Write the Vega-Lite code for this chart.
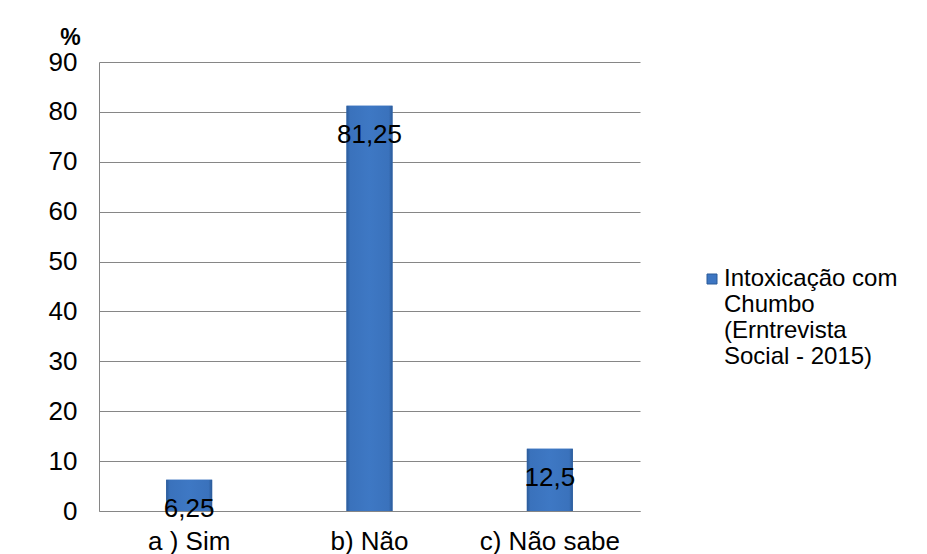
{
  "$schema": "https://vega.github.io/schema/vega-lite/v6.json",
  "autosize": {"type": "none"},
  "padding": {"left": 99, "top": 62, "right": 287, "bottom": 43},
  "width": 541,
  "height": 449,
  "config": {
    "font": "Liberation Sans",
    "view": {"stroke": null},
    "locale": {
      "number": {"decimal": ",", "thousands": ".", "grouping": [3], "currency": ["R$", ""]}
    }
  },
  "data": {
    "values": [
      {"resposta": "a ) Sim", "pct": 6.25, "serie": "Intoxicação com Chumbo (Erntrevista Social - 2015)"},
      {"resposta": "b) Não", "pct": 81.25, "serie": "Intoxicação com Chumbo (Erntrevista Social - 2015)"},
      {"resposta": "c) Não sabe", "pct": 12.5, "serie": "Intoxicação com Chumbo (Erntrevista Social - 2015)"}
    ]
  },
  "encoding": {
    "x": {
      "field": "resposta",
      "type": "nominal",
      "sort": null,
      "scale": {"paddingInner": 0, "paddingOuter": 0},
      "axis": {
        "title": null,
        "ticks": false,
        "labelAngle": 0,
        "labelPadding": 17,
        "labelFontSize": 26,
        "labelColor": "#000000",
        "domainColor": "#868686",
        "domainWidth": 1
      }
    },
    "y": {
      "field": "pct",
      "type": "quantitative",
      "scale": {"domain": [0, 90], "nice": false},
      "axis": {
        "title": "%",
        "titleAngle": 0,
        "titleFontWeight": "bold",
        "titleFontSize": 23,
        "titleColor": "#000000",
        "titleX": -29,
        "titleY": -25,
        "titleAlign": "center",
        "titleBaseline": "middle",
        "values": [0, 10, 20, 30, 40, 50, 60, 70, 80, 90],
        "ticks": false,
        "labelPadding": 22,
        "labelFontSize": 26,
        "labelColor": "#000000",
        "domainColor": "#868686",
        "gridColor": "#868686",
        "gridWidth": 1
      }
    }
  },
  "layer": [
    {
      "mark": {"type": "bar", "width": {"band": 0.255}},
      "encoding": {
        "color": {
          "field": "serie",
          "type": "nominal",
          "scale": {"range": ["#3D76C2"]},
          "legend": {
            "title": null,
            "orient": "none",
            "legendX": 601,
            "legendY": 205,
            "padding": 0,
            "symbolType": "square",
            "symbolSize": 100,
            "symbolStrokeColor": "#2B5A98",
            "symbolStrokeWidth": 1,
            "labelFontSize": 24,
            "labelColor": "#000000",
            "labelLimit": 0,
            "labelOffset": 0,
            "labelExpr": "['Intoxicação com', 'Chumbo', '(Erntrevista', 'Social - 2015)']"
          }
        }
      }
    },
    {
      "mark": {
        "type": "bar",
        "width": {"band": 0.255},
        "fill": {
          "gradient": "linear",
          "x1": 0, "x2": 1, "y1": 0, "y2": 0,
          "stops": [
            {"offset": 0, "color": "#2B5A98"},
            {"offset": 0.08, "color": "#3A72BC"},
            {"offset": 0.5, "color": "#3E78C4"},
            {"offset": 0.92, "color": "#3A72BC"},
            {"offset": 1, "color": "#2B5A98"}
          ]
        }
      }
    },
    {
      "mark": {"type": "text", "dy": 29, "fontSize": 26, "baseline": "middle", "color": "#000000"},
      "encoding": {
        "text": {"field": "pct", "type": "quantitative", "format": ".4~g"}
      }
    }
  ]
}
